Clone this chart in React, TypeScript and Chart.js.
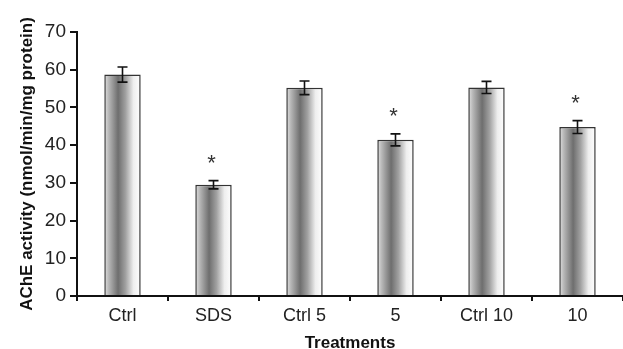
import React, { useEffect, useRef } from "react";
import { Chart, registerables } from "chart.js";

Chart.register(...registerables);

const categories = ["Ctrl", "SDS", "Ctrl 5", "5", "Ctrl 10", "10"];
const activity = [58.7, 29.5, 55.2, 41.4, 55.3, 44.8];
const errors = [2.0, 1.1, 1.8, 1.6, 1.6, 1.7];
const significant = [false, true, false, true, false, true];
const yTicks = [0, 10, 20, 30, 40, 50, 60, 70];

const FONT = "'Liberation Sans', Arial, Helvetica, sans-serif";
const BAR_PCT = 0.4;

const errorBarPlugin = {
  id: "errorBars",
  afterDatasetsDraw(chart: any) {
    const ctx = chart.ctx;
    const xs = chart.scales.x;
    const ys = chart.scales.y;
    ctx.save();
    ctx.strokeStyle = "#111";
    ctx.lineWidth = 1.6;
    activity.forEach((v, i) => {
      const cx = xs.getPixelForValue(i);
      const top = ys.getPixelForValue(v + errors[i]);
      const bot = ys.getPixelForValue(v - errors[i]);
      const cap = 5;
      ctx.beginPath();
      ctx.moveTo(cx, top);
      ctx.lineTo(cx, bot);
      ctx.moveTo(cx - cap, top);
      ctx.lineTo(cx + cap, top);
      ctx.moveTo(cx - cap, bot);
      ctx.lineTo(cx + cap, bot);
      ctx.stroke();
      if (significant[i]) {
        ctx.fillStyle = "#333";
        ctx.font = `22px ${FONT}`;
        ctx.textAlign = "center";
        ctx.textBaseline = "alphabetic";
        ctx.fillText("*", cx - 2, top - 11);
      }
    });
    ctx.restore();
  },
};

export default function App() {
  const ref = useRef<HTMLCanvasElement | null>(null);

  useEffect(() => {
    document.body.style.margin = "0";
    const canvas = ref.current;
    if (!canvas) return;
    const chart = new Chart(canvas, {
      type: "bar",
      data: {
        labels: categories,
        datasets: [
          {
            data: activity,
            categoryPercentage: 1,
            barPercentage: BAR_PCT,
            borderColor: "#333",
            borderWidth: 1.5,
            backgroundColor: (c: any) => {
              const ch = c.chart;
              if (!ch.chartArea) return "#999";
              const xs = ch.scales.x;
              const cx = xs.getPixelForValue(c.dataIndex);
              const hw = ((xs.width / categories.length) * BAR_PCT) / 2;
              const g = ch.ctx.createLinearGradient(cx - hw, 0, cx + hw, 0);
              g.addColorStop(0, "#e2e2e2");
              g.addColorStop(0.12, "#b8b8b8");
              g.addColorStop(0.38, "#6e6e6e");
              g.addColorStop(0.58, "#a0a0a0");
              g.addColorStop(0.8, "#eeeeee");
              g.addColorStop(1, "#ffffff");
              return g;
            },
          },
        ],
      },
      options: {
        responsive: false,
        animation: false,
        devicePixelRatio: 1,
        layout: { padding: { top: 32, right: 0, left: 0, bottom: 0 } },
        plugins: { legend: { display: false }, tooltip: { enabled: false } },
        scales: {
          x: {
            afterFit: (s: any) => {
              s.height = 53;
            },
            grid: {
              display: true,
              drawOnChartArea: false,
              drawTicks: true,
              tickLength: 5,
              color: "#111",
              lineWidth: 2,
              offset: true,
            },
            border: { display: true, color: "#111", width: 2 },
            ticks: {
              color: "#222",
              font: { family: FONT, size: 18 },
              padding: 4,
              maxRotation: 0,
            },
            title: {
              display: true,
              text: "Treatments",
              color: "#111",
              font: { family: FONT, size: 17, weight: "bold", lineHeight: 1 },
              padding: { top: 0, bottom: -3 },
            },
          },
          y: {
            min: 0,
            max: 70,
            afterFit: (s: any) => {
              s.width = 77;
            },
            afterBuildTicks: (s: any) => {
              s.ticks = yTicks.map((v) => ({ value: v }));
            },
            grid: {
              display: true,
              drawOnChartArea: false,
              drawTicks: true,
              tickLength: 7,
              color: "#111",
              lineWidth: 2,
            },
            border: { display: true, color: "#111", width: 2 },
            ticks: {
              color: "#222",
              font: { family: FONT, size: 19 },
              padding: 4,
            },
            title: {
              display: true,
              text: "AChE activity (nmol/min/mg protein)",
              color: "#111",
              font: { family: FONT, size: 17, weight: "bold", lineHeight: 1.2 },
              padding: { top: 17, bottom: 0 },
            },
          },
        },
      },
      plugins: [errorBarPlugin],
    } as any);
    return () => chart.destroy();
  }, []);

  return (
    <div style={{ width: 623, height: 349, background: "#fff" }}>
      <canvas ref={ref} width={623} height={349} style={{ display: "block" }} />
    </div>
  );
}
